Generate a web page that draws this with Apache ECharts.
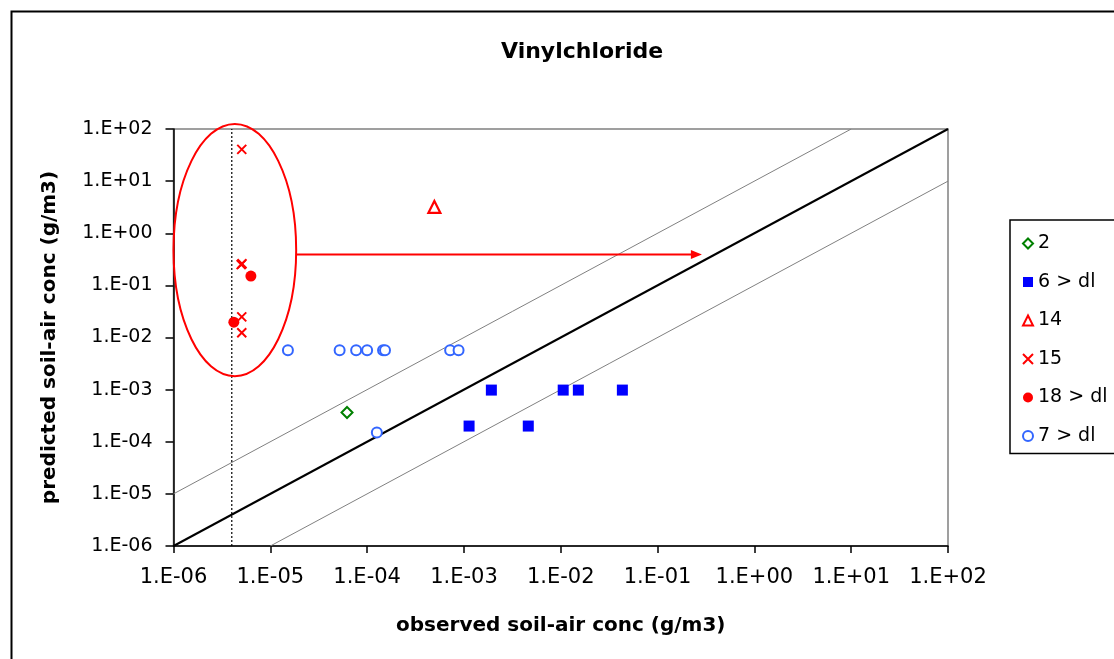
<!DOCTYPE html>
<html>
<head>
<meta charset="utf-8">
<script src="https://cdn.jsdelivr.net/npm/echarts@6/dist/echarts.min.js"></script>
<style>
html,body{margin:0;padding:0;background:#fff;}
#c{width:1114px;height:659px;}
</style>
</head>
<body>
<div id="c"></div>
<script>
// ---- data (observed, predicted) ----
const tickLabels = ['1.E-06','1.E-05','1.E-04','1.E-03','1.E-02','1.E-01','1.E+00','1.E+01','1.E+02'];
const seriesNames = ['2', '6 > dl', '14', '15', '18 > dl', '7 > dl'];
const s2 = [[6.2e-5, 3.64e-4]];
const s6 = [[1.92e-3, 9.8e-4], [1.06e-2, 9.8e-4], [1.52e-2, 9.8e-4], [4.33e-2, 9.8e-4], [1.13e-3, 2.0e-4], [4.62e-3, 2.0e-4]];
const s14 = [[4.95e-4, 3.2]];
const s15 = [[5.07e-6, 40.7], [5.0e-6, 0.25], [5.1e-6, 0.26], [5.07e-6, 0.0249], [5.07e-6, 0.0123]];
const s18 = [[6.3e-6, 0.151], [4.2e-6, 0.0197]];
const s7 = [[1.52e-5, 5.7e-3], [5.2e-5, 5.7e-3], [7.7e-5, 5.7e-3], [1.0e-4, 5.7e-3], [1.46e-4, 5.7e-3], [1.53e-4, 5.7e-3], [7.2e-4, 5.7e-3], [8.8e-4, 5.7e-3], [1.26e-4, 1.5e-4]];
// reference lines: 1:1, x10, x/10
const line11 = [[1e-6, 1e-6], [1e2, 1e2]];
const lineUp = [[1e-6, 1e-5], [1e1, 1e2]];
const lineDown = [[1e-5, 1e-6], [1e2, 1e1]];
const detLimit = [[4e-6, 1e-6], [4e-6, 1e2]];
// annotation (data coords): ellipse bounds [xMin, xMax, yMin, yMax], arrow [x0, x1, y]
const ellipseBounds = [1.0e-6, 1.85e-5, 1.81e-3, 125];
const arrowPts = [1.85e-5, 0.287, 0.393];

const FONT = 'DejaVu Sans';
const crossPath = 'path://M0,0L10,10M10,0L0,10';

const chart = echarts.init(document.getElementById('c'), null, {renderer: 'canvas'});

function fmt(v) {
  const e = Math.round(Math.log10(v));
  return tickLabels[e + 6] || '';
}

const option = {
  backgroundColor: '#fff',
  animation: false,
  title: {
    text: 'Vinylchloride',
    left: 496, top: 36,
    textStyle: {fontFamily: FONT, fontSize: 22, fontWeight: 'bold', color: '#000'}
  },
  grid: {
    left: 173.5, top: 129, right: 166, bottom: 113,
    show: true, borderColor: '#808080', borderWidth: 1.5, backgroundColor: '#fff'
  },
  legend: {
    orient: 'vertical',
    left: 1010, top: 220,
    padding: [14, 30, 8, 12],
    itemGap: 19.5,
    itemWidth: 10, itemHeight: 10,
    borderColor: '#000', borderWidth: 1.5,
    backgroundColor: '#fff',
    data: seriesNames,
    textStyle: {fontFamily: FONT, fontSize: 19, lineHeight: 19, color: '#000'}
  },
  xAxis: {
    type: 'log', logBase: 10, min: 1e-6, max: 1e2, interval: 1, splitNumber: 8,
    name: 'observed soil-air conc (g/m3)', nameLocation: 'middle', nameGap: 70,
    nameTextStyle: {fontFamily: FONT, fontSize: 20, fontWeight: 'bold', color: '#000'},
    axisLine: {lineStyle: {color: '#000', width: 1.5}},
    axisTick: {show: true, length: 7, lineStyle: {color: '#000', width: 1.5}},
    minorTick: {show: false},
    splitLine: {show: false},
    axisLabel: {fontFamily: FONT, fontSize: 21, color: '#000', margin: 21, formatter: fmt, showMinLabel: true, showMaxLabel: true}
  },
  yAxis: {
    type: 'log', logBase: 10, min: 1e-6, max: 1e2, interval: 1, splitNumber: 8,
    name: 'predicted soil-air conc (g/m3)', nameLocation: 'middle', nameGap: 114,
    nameTextStyle: {fontFamily: FONT, fontSize: 20, fontWeight: 'bold', color: '#000'},
    axisLine: {lineStyle: {color: '#000', width: 1.5}},
    axisTick: {show: true, length: 8, lineStyle: {color: '#000', width: 1.5}},
    minorTick: {show: false},
    splitLine: {show: false},
    axisLabel: {fontFamily: FONT, fontSize: 19, color: '#000', margin: 21, formatter: fmt, showMinLabel: true, showMaxLabel: true}
  },
  series: [
    {type: 'line', data: lineUp, symbol: 'none', silent: true, lineStyle: {color: '#808080', width: 1}, z: 1},
    {type: 'line', data: lineDown, symbol: 'none', silent: true, lineStyle: {color: '#808080', width: 1}, z: 1},
    {type: 'line', data: line11, symbol: 'none', silent: true, lineStyle: {color: '#000', width: 2}, z: 1},
    {type: 'line', data: detLimit, symbol: 'none', silent: true, lineStyle: {color: '#000', width: 1.2, type: [2, 2]}, z: 1},
    {name: seriesNames[0], type: 'scatter', data: s2, symbol: 'diamond', symbolSize: 11,
     itemStyle: {color: '#fff', borderColor: '#008000', borderWidth: 2, opacity: 1}, z: 3},
    {name: seriesNames[1], type: 'scatter', data: s6, symbol: 'rect', symbolSize: 11,
     itemStyle: {color: '#0000ff', opacity: 1}, z: 3},
    {name: seriesNames[2], type: 'scatter', data: s14, symbol: 'triangle', symbolSize: 12,
     itemStyle: {color: '#fff', borderColor: '#ff0000', borderWidth: 2.2, opacity: 1}, z: 3},
    {name: seriesNames[3], type: 'scatter', data: s15, symbol: crossPath, symbolSize: 9,
     itemStyle: {color: 'rgba(0,0,0,0)', borderColor: '#ff0000', borderWidth: 2, opacity: 1}, z: 3},
    {name: seriesNames[4], type: 'scatter', data: s18, symbol: 'circle', symbolSize: 11,
     itemStyle: {color: '#ff0000', opacity: 1}, z: 3},
    {name: seriesNames[5], type: 'scatter', data: s7, symbol: 'circle', symbolSize: 10,
     itemStyle: {color: '#fff', borderColor: '#3366ff', borderWidth: 2, opacity: 1}, z: 3}
  ]
};
chart.setOption(option);

function drawAnnotations() {
  const p1 = chart.convertToPixel({gridIndex: 0}, [ellipseBounds[0], ellipseBounds[3]]);
  const p2 = chart.convertToPixel({gridIndex: 0}, [ellipseBounds[1], ellipseBounds[2]]);
  const a0 = chart.convertToPixel({gridIndex: 0}, [arrowPts[0], arrowPts[2]]);
  const a1 = chart.convertToPixel({gridIndex: 0}, [arrowPts[1], arrowPts[2]]);
  const head = 11, half = 4.5;
  chart.setOption({
    graphic: [
      {type: 'rect', left: 9, top: 9, shape: {x: 0, y: 0, width: 1200, height: 800}, silent: true,
       style: {fill: 'none', stroke: '#000', lineWidth: 2}, z: 100},
      {type: 'ellipse', shape: {cx: (p1[0] + p2[0]) / 2, cy: (p1[1] + p2[1]) / 2, rx: (p2[0] - p1[0]) / 2, ry: (p2[1] - p1[1]) / 2},
       style: {fill: 'none', stroke: '#ff0000', lineWidth: 2}, silent: true, z: 50},
      {type: 'line', shape: {x1: a0[0], y1: a0[1], x2: a1[0] - head + 1, y2: a1[1]},
       style: {stroke: '#ff0000', lineWidth: 2}, silent: true, z: 50},
      {type: 'polygon', shape: {points: [[a1[0], a1[1]], [a1[0] - head, a1[1] - half], [a1[0] - head, a1[1] + half]]},
       style: {fill: '#ff0000'}, silent: true, z: 50}
    ]
  });
}
drawAnnotations();
</script>
</body>
</html>
